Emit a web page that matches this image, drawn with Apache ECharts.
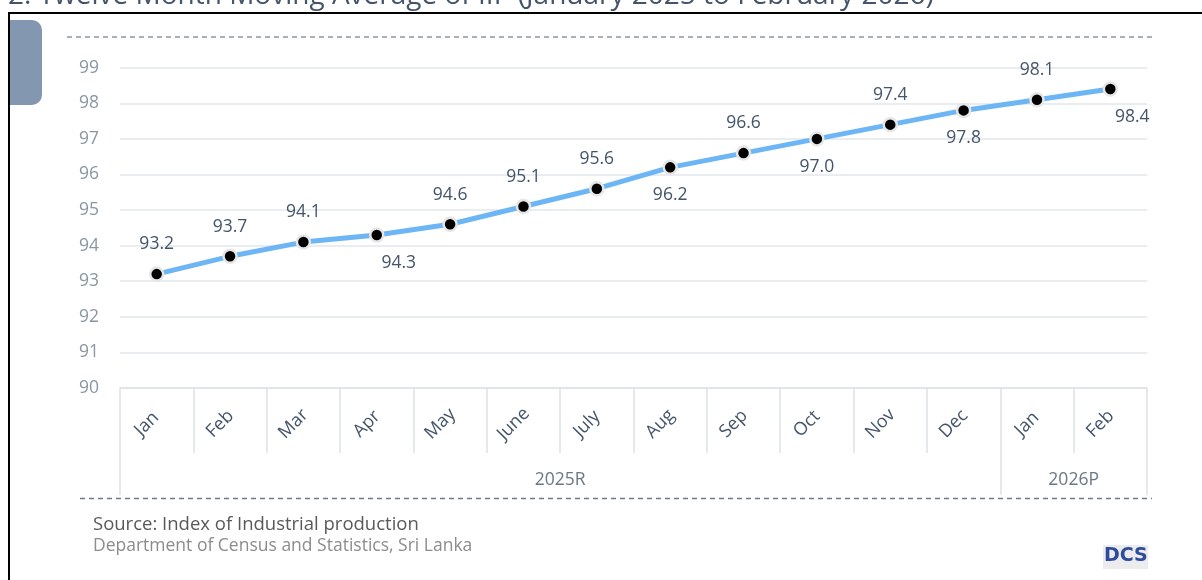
<!DOCTYPE html>
<html>
<head>
<meta charset="utf-8">
<script src="https://cdn.jsdelivr.net/npm/echarts@6/dist/echarts.min.js"></script>
<style>
html,body{margin:0;padding:0;background:#fff;}
#chart{width:1202px;height:580px;}
</style>
</head>
<body>
<div id="chart"></div>
<script>
const months = ['Jan','Feb','Mar','Apr','May','June','July','Aug','Sep','Oct','Nov','Dec','Jan','Feb'];
const values = [93.2, 93.7, 94.1, 94.3, 94.6, 95.1, 95.6, 96.2, 96.6, 97.0, 97.4, 97.8, 98.1, 98.4];
const years = ['2025R', '2026P'];
const yearSpans = [12, 2];
const yTicks = [90, 91, 92, 93, 94, 95, 96, 97, 98, 99];

// label placement style (indices whose labels sit below the marker)
const belowIdx = [3, 7, 9, 11, 13];
const shiftRightIdx = [3, 13];

const chart = echarts.init(document.getElementById('chart'), null, {renderer: 'canvas'});

const FONT = '"Open Sans", Lato, sans-serif';
const gridLeft = 120, gridRight = 55, gridTop = 67.7, gridBottom = 192;

const yearBounds = [0];
yearSpans.forEach(s => yearBounds.push(yearBounds[yearBounds.length - 1] + s));
const yearCenters = yearSpans.map((s, i) => yearBounds[i] + s / 2);

const data = values.map((v, i) => {
  const below = belowIdx.includes(i);
  return {
    value: v,
    label: {
      position: below ? 'bottom' : 'top',
      distance: below ? 11 : 13,
      offset: shiftRightIdx.includes(i) ? [22, 0] : [0, 0]
    }
  };
});

const option = {
  animation: false,
  backgroundColor: '#ffffff',
  grid: {left: gridLeft, right: gridRight, top: gridTop, bottom: gridBottom, containLabel: false},
  xAxis: [
    {
      type: 'category',
      data: months,
      boundaryGap: true,
      position: 'bottom',
      axisLine: {show: true, lineStyle: {color: '#DDE2E9', width: 1.5}},
      axisTick: {show: true, interval: 0, length: 65, lineStyle: {color: '#DDE2E9', width: 1.5}},
      axisLabel: {
        interval: 0,
        rotate: 45,
        align: 'center',
        verticalAlign: 'middle',
        margin: 26,
        padding: [0, 28, 0, 0],
        color: '#44546A',
        fontSize: 18,
        fontFamily: FONT
      },
      splitLine: {show: false}
    },
    {
      type: 'value',
      min: 0,
      max: months.length,
      position: 'bottom',
      axisLine: {show: false},
      axisTick: {show: true, customValues: yearBounds, length: 107, lineStyle: {color: '#DDE2E9', width: 1.5}},
      axisLabel: {
        show: true,
        customValues: yearCenters,
        formatter: (v) => {
          const i = yearCenters.findIndex(c => Math.abs(c - v) < 1e-6);
          return i >= 0 ? years[i] : '';
        },
        margin: 83,
        color: '#6B7785',
        fontSize: 17.5,
        fontFamily: FONT
      },
      splitLine: {show: false}
    }
  ],
  yAxis: {
    type: 'value',
    min: yTicks[0],
    max: yTicks[yTicks.length - 1],
    interval: 1,
    axisLine: {show: false},
    axisTick: {show: false},
    axisLabel: {
      margin: 21,
      color: '#8B96A3',
      fontSize: 17.5,
      fontFamily: FONT,
      formatter: (v) => yTicks.includes(v) ? String(v) : ''
    },
    splitLine: {lineStyle: {color: '#E2E6EC', width: 1.5}}
  },
  series: [{
    type: 'line',
    xAxisIndex: 0,
    data: data,
    symbol: 'circle',
    symbolSize: 13,
    itemStyle: {color: '#000000', borderColor: '#E6E6E6', borderWidth: 2.5},
    lineStyle: {color: '#6DB6F6', width: 5},
    label: {
      show: true,
      color: '#44546A',
      fontSize: 17.5,
      fontFamily: FONT,
      formatter: (p) => p.value.toFixed(1)
    },
    z: 5
  }],
  graphic: [
    {type: 'text', left: 8, top: -18, silent: true,
      style: {text: '2: Twelve Month Moving Average of IIP (January 2025 to February 2026)', fill: '#44546A', font: '28px ' + FONT}},
    {type: 'line', silent: true, shape: {x1: 8, y1: 13, x2: 1202, y2: 13}, style: {stroke: '#000', lineWidth: 2}},
    {type: 'line', silent: true, shape: {x1: 9, y1: 12, x2: 9, y2: 580}, style: {stroke: '#000', lineWidth: 2}},
    {type: 'rect', silent: true, shape: {x: 10, y: 20, width: 32, height: 85, r: [0, 10, 10, 0]}, style: {fill: '#8497B0'}},
    {type: 'line', silent: true, shape: {x1: 67, y1: 37, x2: 1152, y2: 37}, style: {stroke: '#8C98A4', lineWidth: 1.3, lineDash: [5, 4]}},
    {type: 'line', silent: true, shape: {x1: 80, y1: 498.5, x2: 1152, y2: 498.5}, style: {stroke: '#6E7C8A', lineWidth: 1.3, lineDash: [5, 4]}},
    {type: 'text', silent: true, left: 93, top: 515, style: {text: 'Source: Index of Industrial production', fill: '#595959', font: '18.5px ' + FONT}},
    {type: 'text', silent: true, left: 93, top: 537, style: {text: 'Department of Census and Statistics, Sri Lanka', fill: '#8C8C8C', font: '17.5px ' + FONT}},
    {type: 'rect', silent: true, shape: {x: 1103, y: 545, width: 45, height: 24}, style: {fill: '#ECECEF'}},
    {type: 'text', silent: true, left: 1104, top: 547, style: {text: 'DCS', fill: '#2D4C9C', font: 'bold 19px "DejaVu Sans", sans-serif'}}
  ]
};

chart.setOption(option);
</script>
</body>
</html>
